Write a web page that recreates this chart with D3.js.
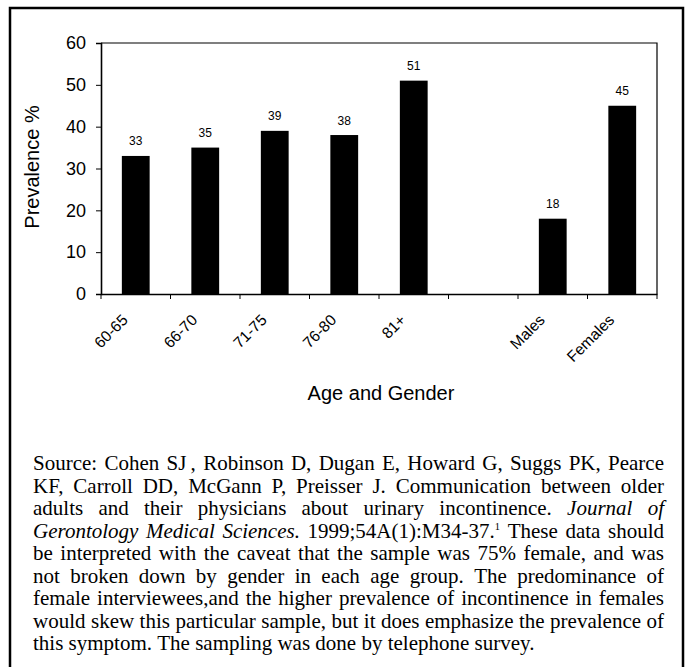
<!DOCTYPE html>
<html>
<head>
<meta charset="utf-8">
<script src="https://cdn.jsdelivr.net/npm/d3@7"></script>
<style>
  body { margin: 0; background: #fff; }
  svg { display: block; }
</style>
</head>
<body>
<script>
// data
var categories = ["60-65", "66-70", "71-75", "76-80", "81+", "", "Males", "Females"];
var prevalence = [33, 35, 39, 38, 51, null, 18, 45];
var yTicks = [0, 10, 20, 30, 40, 50, 60];

// caption lines, as broken in the original (i = italic, s = superscript)
var captionLines = [
  [["Source: Cohen SJ\u2009, Robinson D, Dugan E, Howard G, Suggs PK, Pearce"]],
  [["KF, Carroll DD, McGann P, Preisser J. Communication between older"]],
  [["adults and their physicians about urinary incontinence. "], ["Journal of", "i"]],
  [["Gerontology Medical Sciences.", "i"], [" 1999;54A(1):M34-37."], ["1", "s"], ["These data should"]],
  [["be interpreted with the caveat that the sample was 75% female, and was"]],
  [["not broken down by gender in each age group. The predominance of"]],
  [["female interviewees,and the higher prevalence of incontinence in females"]],
  [["would skew this particular sample, but it does emphasize the prevalence of"]],
  [["this symptom. The sampling was done by telephone survey."]]
];

var W = 691, H = 667;
var svg = d3.select("body").append("svg").attr("width", W).attr("height", H);

// outer frame
svg.append("rect")
  .attr("x", 10).attr("y", 8).attr("width", 673).attr("height", 700)
  .attr("fill", "none").attr("stroke", "#000").attr("stroke-width", 2.5);

var x = d3.scaleBand().domain(categories).range([101, 657])
  .paddingInner(0.6).paddingOuter(0.3);
var y = d3.scaleLinear().domain([0, 60]).range([294, 43]);

var sans = "'Liberation Sans', Arial, sans-serif";

// plot box top + right
svg.append("path")
  .attr("d", "M101,43H657V294")
  .attr("fill", "none").attr("stroke", "#000").attr("stroke-width", 1.2);

// bars
var rows = categories.map(function(c, i){ return {cat: c, v: prevalence[i]}; })
  .filter(function(d){ return d.v != null; });

svg.selectAll("rect.bar")
  .data(rows)
  .enter()
  .append("rect")
  .attr("class", "bar")
  .attr("x", function(d){ return x(d.cat); })
  .attr("width", x.bandwidth())
  .attr("y", function(d){ return y(d.v); })
  .attr("height", function(d){ return y(0) - y(d.v); })
  .attr("fill", "#000");

svg.selectAll("text.val")
  .data(rows)
  .enter()
  .append("text")
  .attr("class", "val")
  .attr("x", function(d){ return x(d.cat) + x.bandwidth() / 2; })
  .attr("y", function(d){ return y(d.v) - 10.5; })
  .attr("text-anchor", "middle")
  .attr("font-family", sans).attr("font-size", 12)
  .text(function(d){ return d.v; });

// y axis
var yAxis = svg.append("g")
  .attr("transform", "translate(101,0)")
  .call(d3.axisLeft(y).tickValues(yTicks).tickSize(5).tickPadding(10));
yAxis.select(".domain").attr("stroke-width", 1.6);
yAxis.selectAll("text").attr("font-family", sans).attr("font-size", 18).attr("fill", "#000");

// x axis
var xAxis = svg.append("g")
  .attr("transform", "translate(0,294)")
  .call(d3.axisBottom(x).tickSize(0));
xAxis.select(".domain").attr("stroke-width", 1.4);
xAxis.selectAll(".tick text")
  .attr("x", 0).attr("y", 0).attr("dy", 0)
  .attr("transform", "translate(-7,27) rotate(-45)")
  .attr("text-anchor", "end")
  .attr("font-family", sans).attr("font-size", 15.5).attr("fill", "#000");

// x ticks sit between the categories
var bounds = d3.range(categories.length + 1).map(function(i){
  return x.range()[0] + i * x.step();
});
xAxis.selectAll("line.sep")
  .data(bounds)
  .enter()
  .append("line")
  .attr("class", "sep")
  .attr("x1", function(d){ return d; }).attr("x2", function(d){ return d; })
  .attr("y1", 0).attr("y2", 5)
  .attr("stroke", "#000");

// axis titles
svg.append("text")
  .attr("transform", "translate(39,167) rotate(-90)")
  .attr("text-anchor", "middle")
  .attr("font-family", sans).attr("font-size", 20)
  .text("Prevalence %");

svg.append("text")
  .attr("x", 381).attr("y", 400)
  .attr("text-anchor", "middle")
  .attr("font-family", sans).attr("font-size", 20)
  .text("Age and Gender");

// caption, justified word by word
var serif = "'Liberation Serif', 'Times New Roman', serif";
var capLeft = 33, capRight = 664, capTop = 470, capStep = 22.5, capSize = 21;
var cap = svg.append("g").attr("font-family", serif).attr("font-size", capSize);

captionLines.forEach(function(segs, li){
  // break into words, keeping style; superscript glues to the word before
  var words = [];
  var endedWithSpace = true;
  segs.forEach(function(s){
    var style = s[1] || "";
    if (style == "s") {
      words[words.length - 1].push([s[0], style]);
      endedWithSpace = true;
      return;
    }
    var parts = s[0].split(" ");
    parts.forEach(function(p, k){
      if (p === "") return;
      var startsNew = k > 0 || s[0].charAt(0) == " " || endedWithSpace || words.length == 0;
      if (startsNew) words.push([[p, style]]);
      else words[words.length - 1].push([p, style]);
    });
    endedWithSpace = s[0].charAt(s[0].length - 1) == " ";
  });

  var by = capTop + li * capStep;
  var nodes = words.map(function(w){
    var t = cap.append("text").attr("y", by);
    w.forEach(function(piece){
      var ts = t.append("tspan").text(piece[0]);
      if (piece[1] == "i") ts.attr("font-style", "italic");
      if (piece[1] == "s") ts.attr("font-size", capSize * 0.5).attr("dy", -8);
    });
    return t;
  });
  var widths = nodes.map(function(t){ return t.node().getComputedTextLength(); });
  var total = d3.sum(widths);
  var last = li == captionLines.length - 1;
  var gap = last ? capSize * 0.25 : (capRight - capLeft - total) / (nodes.length - 1);
  gap = Math.max(gap, 2.5);
  var cx = capLeft;
  nodes.forEach(function(t, k){
    t.attr("x", cx);
    cx += widths[k] + gap;
  });
});
</script>
</body>
</html>
